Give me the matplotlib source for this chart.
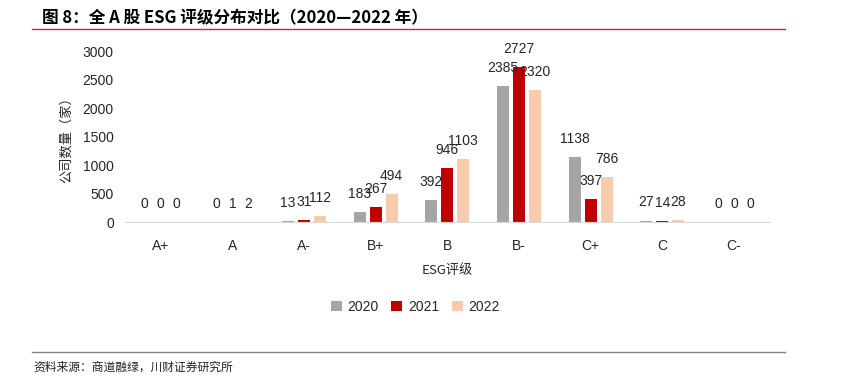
import numpy as np
import matplotlib
matplotlib.use('Agg')
import matplotlib.pyplot as plt
from matplotlib.lines import Line2D

plt.rcParams['font.family'] = ['Liberation Sans', 'Noto Sans CJK SC', 'DejaVu Sans']

CATEGORIES = ['A+', 'A', 'A-', 'B+', 'B', 'B-', 'C+', 'C', 'C-']
YEARS      = ['2020', '2021', '2022']
V2020 = [0, 0, 13, 183, 392, 2385, 1138, 27, 0]
V2021 = [0, 1, 31, 267, 946, 2727, 397, 14, 0]
V2022 = [0, 2, 112, 494, 1103, 2320, 786, 28, 0]
YTICKS = [0, 500, 1000, 1500, 2000, 2500, 3000]

COLORS = ['#A5A5A5', '#C00000', '#F8CBAD']
TXT_C  = '#262626'

fig = plt.figure(figsize=(8.44, 3.79), dpi=100)
ax = fig.add_axes([0.148, 0.414, 0.764, 0.451])

x = np.arange(len(CATEGORIES))
step, width = 0.223, 0.167
for i, (vals, c, yr) in enumerate(zip([V2020, V2021, V2022], COLORS, YEARS)):
    xs = x + (i - 1) * step
    ax.bar(xs, vals, width=width, color=c, label=yr, zorder=2)
    for xi, v in zip(xs, vals):
        ax.annotate(str(v), (xi, v), xytext=(0, 8), textcoords='offset points',
                    ha='center', va='bottom', fontsize=10, color=TXT_C,
                    annotation_clip=False)

ax.set_xlim(-0.5, len(CATEGORIES) - 0.5)
ax.set_ylim(0, 3000)
ax.set_yticks(YTICKS)
ax.set_xticks(x)
ax.set_xticklabels(CATEGORIES)
ax.tick_params(axis='both', length=0, labelsize=10, colors=TXT_C)
ax.tick_params(axis='x', pad=12)
ax.tick_params(axis='y', pad=8)
for s in ['top', 'right', 'left']:
    ax.spines[s].set_visible(False)
ax.spines['bottom'].set_color('#D9D9D9')

ax.set_xlabel('ESG评级', fontsize=9.5, color=TXT_C, labelpad=8,
              family=['Noto Sans CJK SC', 'DejaVu Sans'])
ax.set_ylabel('公司数量（家）', fontsize=9.5, color=TXT_C, labelpad=7,
              family=['Noto Sans CJK SC', 'DejaVu Sans'])

fig.legend(loc='center', bbox_to_anchor=(0.492, 0.19), ncol=3, frameon=False,
           handlelength=0.8, handleheight=0.8, handletextpad=0.4,
           columnspacing=0.9, fontsize=10, labelcolor=TXT_C)

# header / footer
fig.text(0.05, 0.953, '图 8：全 A 股 ESG 评级分布对比（2020—2022 年）',
         fontsize=12, fontweight='bold', va='center', ha='left',
         family=['Noto Sans CJK SC', 'DejaVu Sans'])
fig.add_artist(Line2D([0.038, 0.93], [0.924, 0.924], color='#E02020', lw=1.0))
fig.add_artist(Line2D([0.038, 0.93], [0.071, 0.071], color='#808080', lw=1.0))
fig.text(0.04, 0.015, '资料来源：商道融绿，川财证券研究所', fontsize=8.5,
         style='italic', va='bottom', ha='left', color='#222222',
         family=['Noto Sans CJK SC', 'DejaVu Sans'])

fig.savefig('out.png', dpi=100)
